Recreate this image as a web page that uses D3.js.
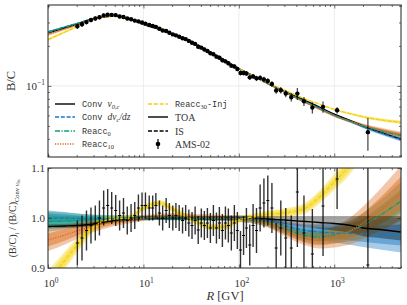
<!DOCTYPE html>
<html>
<head>
<meta charset="utf-8">
<script src="https://cdn.jsdelivr.net/npm/d3@7"></script>
<style>
  body { margin: 0; background: #fff; }
  svg text { font-family: "Liberation Serif", "DejaVu Serif", serif; fill: #333; }
  svg text.mono { font-family: "Liberation Mono", "DejaVu Sans Mono", monospace; }
</style>
</head>
<body>
<svg id="chart" width="407" height="305"></svg>
<script>
// DATA

// rigidity knots (GV) where the model curves are read
const rKnots = [1, 1.5, 2, 3, 4, 5, 7, 10, 15, 20, 30, 40, 50, 70, 100, 150, 200, 300, 500, 700, 1000, 1500, 2000, 3000, 5000];
// absolute B/C of the reference model (Conv v0,c)
const refBC = [0.255, 0.278, 0.295, 0.322, 0.334, 0.336, 0.322, 0.29, 0.265, 0.245, 0.22, 0.197, 0.18, 0.157, 0.135, 0.117, 0.105, 0.092, 0.078, 0.07, 0.062, 0.0555, 0.051, 0.046, 0.041];

// ratios to the reference
const ratioConvV0 = [0.983, 0.984, 0.985, 0.988, 0.992, 0.995, 0.998, 1.0, 1.0, 1.0, 1.0, 1.0, 1.0, 1.0, 1.0, 0.999, 0.998, 0.996, 0.993, 0.991, 0.989, 0.985, 0.98, 0.977, 0.972];
const ratioConvDv = [1.0, 1.0, 0.999, 0.998, 0.998, 0.998, 0.999, 1.0, 1.001, 1.001, 1.0, 1.0, 1.0, 1.0, 1.0, 0.998, 0.995, 0.985, 0.975, 0.972, 0.97, 0.969, 0.968, 0.967, 0.966];
const ratioReacc0 = [0.993, 0.994, 0.995, 0.997, 0.998, 0.999, 1.0, 1.0, 1.001, 1.0, 1.0, 0.999, 0.999, 0.999, 0.998, 0.995, 0.99, 0.978, 0.965, 0.962, 0.966, 0.975, 0.985, 1.005, 1.034];
const ratioReacc10 = [0.956, 0.966, 0.974, 0.984, 0.989, 0.992, 0.996, 1.0, 1.003, 1.004, 1.003, 1.002, 1.001, 1.0, 0.999, 0.996, 0.99, 0.975, 0.958, 0.955, 0.962, 0.975, 0.99, 1.015, 1.05];
const ratioReacc30 = [0.875, 0.915, 0.945, 0.982, 0.995, 0.998, 1.0, 1.02, 1.03, 1.018, 1.0, 0.988, 0.982, 0.982, 0.996, 1.003, 1.007, 1.01, 1.02, 1.042, 1.072, 1.11, 1.15, 1.21, 1.3];

// half widths of the uncertainty bands
const hwConvDv = [0.015, 0.012, 0.01, 0.008, 0.007, 0.006, 0.005, 0.004, 0.004, 0.004, 0.004, 0.004, 0.004, 0.004, 0.005, 0.006, 0.007, 0.009, 0.012, 0.015, 0.019, 0.023, 0.026, 0.03, 0.035];
const hwReacc0 = [0.02, 0.017, 0.014, 0.01, 0.008, 0.007, 0.006, 0.005, 0.005, 0.005, 0.005, 0.005, 0.005, 0.005, 0.006, 0.007, 0.008, 0.01, 0.012, 0.014, 0.017, 0.021, 0.025, 0.03, 0.038];
const hwReacc10 = [0.022, 0.019, 0.016, 0.012, 0.01, 0.008, 0.007, 0.006, 0.006, 0.006, 0.006, 0.006, 0.006, 0.006, 0.007, 0.008, 0.009, 0.011, 0.013, 0.016, 0.021, 0.027, 0.033, 0.042, 0.055];
const hwReacc30 = [0.02, 0.018, 0.015, 0.01, 0.008, 0.007, 0.006, 0.006, 0.006, 0.006, 0.006, 0.006, 0.006, 0.006, 0.006, 0.007, 0.008, 0.009, 0.011, 0.013, 0.016, 0.02, 0.024, 0.03, 0.04];
const grayLo = [0.979, 0.98, 0.981, 0.984, 0.988, 0.991, 0.994, 0.996, 0.996, 0.996, 0.996, 0.996, 0.996, 0.996, 0.996, 0.994, 0.992, 0.988, 0.982, 0.978, 0.975, 0.97, 0.964, 0.96, 0.955];
const grayHi = [0.987, 0.988, 0.989, 0.992, 0.996, 0.999, 1.002, 1.004, 1.004, 1.004, 1.004, 1.004, 1.004, 1.004, 1.004, 1.004, 1.004, 1.004, 1.004, 1.004, 1.004, 1.004, 1.004, 1.004, 1.004];

// AMS-02 B/C
const amsR = [2.03, 2.27, 2.53, 2.82, 3.13, 3.46, 3.83, 4.22, 4.65, 5.12, 5.63, 6.18, 6.77, 7.42, 8.11, 8.86, 9.67, 10.5, 11.5, 12.5, 13.5, 14.7, 15.9, 17.3, 18.7, 20.3, 21.9, 23.7, 25.7, 27.7, 29.9, 32.3, 34.8, 37.5, 40.4, 43.5, 46.8, 50.3, 54.1, 58.2, 62.5, 67.2, 72.3, 77.6, 83.4, 89.7, 96.4, 104, 112, 120, 130, 141, 153, 167, 183, 201, 222, 246, 275, 310, 354, 410, 481, 589, 762, 1070, 2250];
const amsBC = [0.281, 0.291, 0.302, 0.313, 0.321, 0.328, 0.339, 0.343, 0.342, 0.341, 0.333, 0.330, 0.321, 0.317, 0.310, 0.306, 0.300, 0.294, 0.287, 0.282, 0.278, 0.269, 0.261, 0.259, 0.251, 0.244, 0.240, 0.234, 0.228, 0.225, 0.218, 0.211, 0.207, 0.197, 0.194, 0.188, 0.183, 0.176, 0.173, 0.166, 0.163, 0.156, 0.153, 0.148, 0.142, 0.140, 0.134, 0.125, 0.125, 0.124, 0.116, 0.118, 0.114, 0.115, 0.112, 0.109, 0.1035, 0.0923, 0.0928, 0.0875, 0.0821, 0.0875, 0.0766, 0.0687, 0.0696, 0.0656, 0.0449];
const amsRatio = [0.95, 0.96, 0.975, 0.985, 0.99, 1.0, 1.02, 1.025, 1.02, 1.015, 1.005, 1.01, 0.995, 1.0, 1.005, 1.02, 1.025, 1.025, 1.02, 1.02, 1.025, 1.01, 1.0, 1.015, 1.005, 1.0, 1.005, 1.0, 0.995, 1.0, 0.99, 0.985, 0.995, 0.976, 0.99, 0.985, 0.99, 0.98, 0.995, 0.98, 0.99, 0.975, 0.99, 0.985, 0.97, 0.99, 0.975, 0.936, 0.965, 0.98, 0.946, 0.985, 0.975, 1.02, 1.03, 1.035, 1.02, 0.94, 0.98, 0.96, 0.94, 1.052, 0.97, 0.928, 1.024, 1.078, 0.906];
const amsRatioErr = [0.045, 0.045, 0.04, 0.036, 0.035, 0.035, 0.035, 0.033, 0.032, 0.031, 0.03, 0.03, 0.028, 0.028, 0.027, 0.027, 0.026, 0.026, 0.025, 0.025, 0.025, 0.025, 0.025, 0.025, 0.025, 0.025, 0.025, 0.026, 0.026, 0.026, 0.027, 0.027, 0.028, 0.028, 0.029, 0.029, 0.03, 0.03, 0.031, 0.031, 0.032, 0.033, 0.033, 0.034, 0.035, 0.036, 0.037, 0.038, 0.039, 0.04, 0.041, 0.043, 0.045, 0.047, 0.049, 0.05, 0.05, 0.05, 0.055, 0.06, 0.065, 0.11, 0.075, 0.09, 0.1, 0.06, 0.25];

// SETUP
const svg = d3.select("#chart");
const left = 48, right = 401;
const top1 = 5, bot1 = 157, top2 = 168, bot2 = 268;

const x = d3.scaleLog().domain([1, 5000]).range([left, right]);
const yTop = d3.scaleLog().domain([0.0292, 0.406]).range([bot1, top1]);
const yBot = d3.scaleLinear().domain([0.9, 1.1]).range([bot2, top2]);

const models = [
  { ratio: ratioConvDv, hw: hwConvDv, color: "#1a78c0", dash: "4,1.8" },
  { ratio: ratioReacc0, hw: hwReacc0, color: "#0f9c78", dash: "5,1.5,1.2,1.5" },
  { ratio: ratioReacc10, hw: hwReacc10, color: "#dc6a1a", dash: "1.2,1.3" },
  { ratio: ratioReacc30, hw: hwReacc30, color: "#f4d20c", dash: "4,1.8" }
];

// clip paths
const defs = svg.append("defs");
defs.append("clipPath").attr("id", "clipTop").append("rect")
  .attr("x", left).attr("y", top1).attr("width", right - left).attr("height", bot1 - top1);
defs.append("clipPath").attr("id", "clipBot").append("rect")
  .attr("x", left).attr("y", top2).attr("width", right - left).attr("height", bot2 - top2);

// grid lines
function grid(yScale, yVals, y0, y1) {
  const g = svg.append("g").attr("stroke", "#e8e8e8").attr("stroke-width", 0.8);
  [10, 100, 1000].forEach(v => g.append("line").attr("x1", x(v)).attr("x2", x(v)).attr("y1", y0).attr("y2", y1));
  yVals.forEach(v => g.append("line").attr("x1", left).attr("x2", right).attr("y1", yScale(v)).attr("y2", yScale(v)));
}
grid(yTop, [0.1], top1, bot1);
grid(yBot, [1.0], top2, bot2);

const idx = d3.range(rKnots.length);
const bandLayers = [[1, 0.38], [0.6, 0.45]];

// TOP PANEL
const gTop = svg.append("g").attr("clip-path", "url(#clipTop)");
// bands
models.forEach(m => {
  bandLayers.forEach(([k, op]) => {
    gTop.append("path")
      .attr("d", d3.area().curve(d3.curveMonotoneX)
        .x(i => x(rKnots[i]))
        .y0(i => yTop(refBC[i] * (m.ratio[i] - k * m.hw[i])))
        .y1(i => yTop(refBC[i] * (m.ratio[i] + k * m.hw[i])))(idx))
      .attr("fill", m.color).attr("opacity", op);
  });
});
const lineTop = ratio => d3.line().curve(d3.curveMonotoneX)
  .x(i => x(rKnots[i])).y(i => yTop(refBC[i] * ratio[i]))(idx);
gTop.append("path").attr("d", lineTop(ratioConvV0)).attr("fill", "none").attr("stroke", "#000").attr("stroke-width", 1.3);
models.forEach(m => {
  gTop.append("path").attr("d", lineTop(m.ratio)).attr("fill", "none")
    .attr("stroke", m.color).attr("stroke-width", 1.3).attr("stroke-dasharray", m.dash);
});
// data
const topErr = amsBC.map((v, i) => v * amsRatioErr[i] / amsRatio[i]);
gTop.selectAll("line.err").data(amsR).enter().append("line")
  .attr("x1", d => x(d)).attr("x2", d => x(d))
  .attr("y1", (d, i) => yTop(amsBC[i] - topErr[i]))
  .attr("y2", (d, i) => yTop(amsBC[i] + topErr[i]))
  .attr("stroke", "#000").attr("stroke-width", 1.2).attr("opacity", 0.75);
gTop.selectAll("circle").data(amsR).enter().append("circle")
  .attr("cx", d => x(d)).attr("cy", (d, i) => yTop(amsBC[i]))
  .attr("r", 2.2).attr("fill", "#000");

// BOTTOM PANEL
const gBot = svg.append("g").attr("clip-path", "url(#clipBot)");
models.forEach(m => {
  bandLayers.forEach(([k, op]) => {
    gBot.append("path")
      .attr("d", d3.area().curve(d3.curveMonotoneX)
        .x(i => x(rKnots[i]))
        .y0(i => yBot(m.ratio[i] - k * m.hw[i]))
        .y1(i => yBot(m.ratio[i] + k * m.hw[i]))(idx))
      .attr("fill", m.color).attr("opacity", op);
  });
});
gBot.append("path")
  .attr("d", d3.area().curve(d3.curveMonotoneX)
    .x(i => x(rKnots[i])).y0(i => yBot(grayLo[i])).y1(i => yBot(grayHi[i]))(idx))
  .attr("fill", "#000").attr("opacity", 0.35);
const lineBot = ratio => d3.line().curve(d3.curveMonotoneX)
  .x(i => x(rKnots[i])).y(i => yBot(ratio[i]))(idx);
gBot.append("path").attr("d", lineBot(ratioConvV0)).attr("fill", "none").attr("stroke", "#000").attr("stroke-width", 1.3);
models.forEach(m => {
  gBot.append("path").attr("d", lineBot(m.ratio)).attr("fill", "none")
    .attr("stroke", m.color).attr("stroke-width", 1.3).attr("stroke-dasharray", m.dash);
});
gBot.selectAll("line.err").data(amsR).enter().append("line")
  .attr("x1", d => x(d)).attr("x2", d => x(d))
  .attr("y1", (d, i) => yBot(amsRatio[i] - amsRatioErr[i]))
  .attr("y2", (d, i) => yBot(amsRatio[i] + amsRatioErr[i]))
  .attr("stroke", "#000").attr("stroke-width", 1.4).attr("opacity", 0.8);
gBot.selectAll("line.mk").data(amsR).enter().append("line")
  .attr("x1", d => x(d) - 1.5).attr("x2", d => x(d) + 1.5)
  .attr("y1", (d, i) => yBot(amsRatio[i])).attr("y2", (d, i) => yBot(amsRatio[i]))
  .attr("stroke", "#000").attr("stroke-width", 1);

// AXES (inward ticks on all sides)
const xMajor = [1, 10, 100, 1000];
const xMinor = [];
[1, 10, 100, 1000].forEach(p => d3.range(2, 10).forEach(k => { if (p * k <= 5000) xMinor.push(p * k); }));

function ticks(axisFn, scale, vals, size, tr) {
  const g = svg.append("g").attr("transform", tr)
    .call(axisFn(scale).tickValues(vals).tickSize(-size).tickFormat(""));
  g.select(".domain").remove();
  g.selectAll("line").attr("stroke", "#333").attr("stroke-width", 0.7);
}
[[top1, bot1], [top2, bot2]].forEach(([t, b]) => {
  ticks(d3.axisBottom, x, xMajor, 3.5, `translate(0,${b})`);
  ticks(d3.axisBottom, x, xMinor, 2, `translate(0,${b})`);
  ticks(d3.axisTop, x, xMajor, 3.5, `translate(0,${t})`);
  ticks(d3.axisTop, x, xMinor, 2, `translate(0,${t})`);
});
const yTopMinor = [0.03, 0.04, 0.05, 0.06, 0.07, 0.08, 0.09, 0.2, 0.3, 0.4];
ticks(d3.axisLeft, yTop, [0.1], 3.5, `translate(${left},0)`);
ticks(d3.axisLeft, yTop, yTopMinor, 2, `translate(${left},0)`);
ticks(d3.axisRight, yTop, [0.1], 3.5, `translate(${right},0)`);
ticks(d3.axisRight, yTop, yTopMinor, 2, `translate(${right},0)`);
ticks(d3.axisLeft, yBot, [0.9, 1.0, 1.1], 3.5, `translate(${left},0)`);
ticks(d3.axisRight, yBot, [0.9, 1.0, 1.1], 3.5, `translate(${right},0)`);

// frames
[[top1, bot1], [top2, bot2]].forEach(([t, b]) => {
  svg.append("rect").attr("x", left).attr("y", t).attr("width", right - left).attr("height", b - t)
    .attr("fill", "none").attr("stroke", "#333").attr("stroke-width", 1.1);
});

// tick labels
function powerLabel(px, py, exp, anchor) {
  const t = svg.append("text").attr("x", px).attr("y", py).attr("text-anchor", anchor).attr("font-size", 11);
  t.append("tspan").text("10");
  t.append("tspan").attr("dy", -4.5).attr("font-size", 7.5).text(exp);
}
xMajor.forEach((v, i) => powerLabel(x(v) + 3, 287, String(i), "middle"));
powerLabel(45, yTop(0.1) + 4, "\u22121", "end");
[0.9, 1.0, 1.1].forEach(v => {
  svg.append("text").attr("x", 45).attr("y", yBot(v) + 4).attr("text-anchor", "end")
    .attr("font-size", 11).text(v.toFixed(1));
});

// axis titles
svg.append("text").attr("transform", `translate(15,${(top1 + bot1) / 2}) rotate(-90)`)
  .attr("text-anchor", "middle").attr("font-size", 12.5).text("B/C");
const yl = svg.append("text").attr("transform", `translate(16,${(top2 + bot2) / 2}) rotate(-90)`)
  .attr("text-anchor", "middle").attr("font-size", 10);
yl.append("tspan").text("(B/C)");
yl.append("tspan").attr("dy", 2.5).attr("font-size", 7).attr("font-style", "italic").text("i");
yl.append("tspan").attr("dy", -2.5).text(" / (B/C)");
yl.append("tspan").attr("dy", 2.5).attr("font-size", 6.5).text("Conv ");
yl.append("tspan").attr("font-size", 6.5).attr("font-style", "italic").text("v");
yl.append("tspan").attr("dy", 1.5).attr("font-size", 5).text("0c");
const xl = svg.append("text").attr("x", 225).attr("y", 300).attr("text-anchor", "middle").attr("font-size", 12.5);
xl.append("tspan").attr("font-style", "italic").text("R");
xl.append("tspan").text(" [GV]");

// LEGEND
const rowsY = [104, 117, 131, 144];
const leg = svg.append("g");
function handle(x0, y0, color, dash) {
  leg.append("line").attr("x1", x0).attr("x2", x0 + 20).attr("y1", y0).attr("y2", y0)
    .attr("stroke", color).attr("stroke-width", 1.4).attr("stroke-dasharray", dash || null);
}
handle(55, rowsY[0], "#000", null);
handle(55, rowsY[1], models[0].color, models[0].dash);
handle(55, rowsY[2], models[1].color, models[1].dash);
handle(55, rowsY[3], models[2].color, models[2].dash);
handle(148, rowsY[0], models[3].color, models[3].dash);
handle(148, rowsY[1], "#000", null);
handle(148, rowsY[2], "#000", "4,1.8");
leg.append("line").attr("x1", 158).attr("x2", 158).attr("y1", rowsY[3] - 5).attr("y2", rowsY[3] + 5)
  .attr("stroke", "#000").attr("stroke-width", 1.2);
leg.append("circle").attr("cx", 158).attr("cy", rowsY[3]).attr("r", 2.3).attr("fill", "#000");

function monoLabel(x0, y0, parts) {
  const t = leg.append("text").attr("x", x0).attr("y", y0 + 3).attr("font-size", 8.5);
  parts.forEach(p => {
    const s = t.append("tspan").text(p.t);
    if (p.mono) s.attr("class", "mono").style("font-family", "'Liberation Mono','DejaVu Sans Mono',monospace");
    if (p.it) s.attr("font-style", "italic");
    if (p.size) s.attr("font-size", p.size);
    if (p.dy) s.attr("dy", p.dy);
  });
}
monoLabel(82, rowsY[0], [{ t: "Conv ", mono: true }, { t: "v", it: true, size: 9.5 }, { t: "0,c", it: true, size: 6.5, dy: 2 }]);
monoLabel(82, rowsY[1], [{ t: "Conv ", mono: true }, { t: "dv", it: true, size: 9.5 }, { t: "c", it: true, size: 6.5, dy: 2 }, { t: "/dz", it: true, size: 9.5, dy: -2 }]);
monoLabel(82, rowsY[2], [{ t: "Reacc", mono: true }, { t: "0", size: 6.5, dy: 2 }]);
monoLabel(82, rowsY[3], [{ t: "Reacc", mono: true }, { t: "10", size: 6.5, dy: 2 }]);
monoLabel(175, rowsY[0], [{ t: "Reacc", mono: true }, { t: "30", size: 6.5, dy: 2 }, { t: "-Inj", mono: true, dy: -2 }]);
[["TOA", 1], ["IS", 2], ["AMS-02", 3]].forEach(([s, r]) => {
  leg.append("text").attr("x", 175).attr("y", rowsY[r] + 3.5).attr("font-size", 10).text(s);
});
</script>
</body>
</html>
